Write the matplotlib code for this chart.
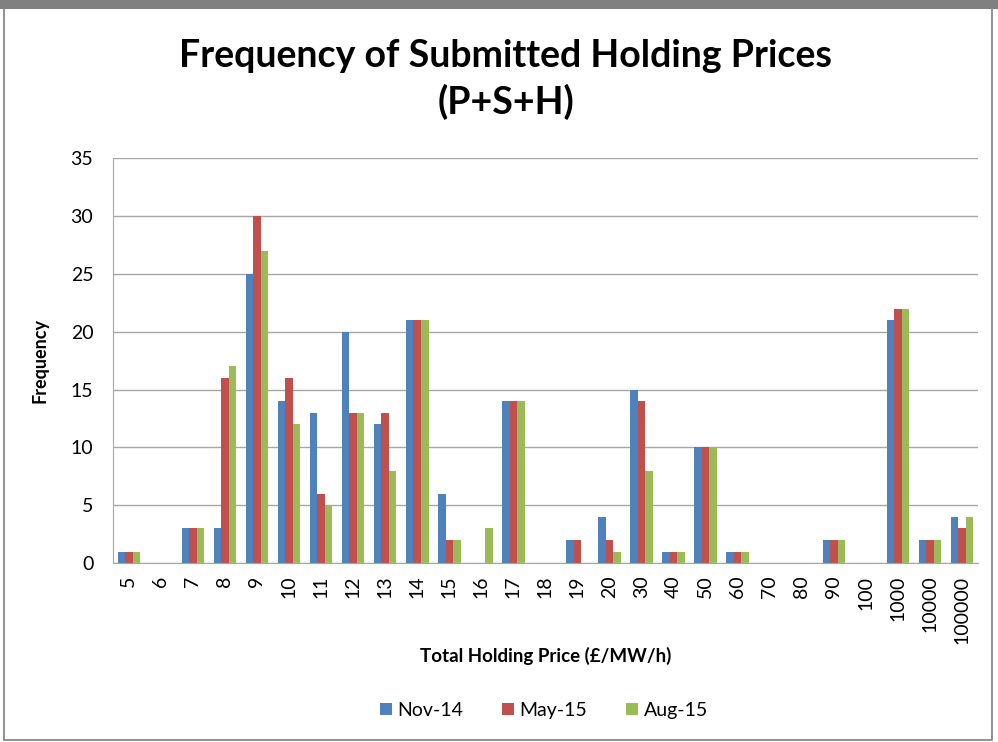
import matplotlib.pyplot as plt
import numpy as np
from matplotlib.patches import Rectangle

# data
prices = ['5', '6', '7', '8', '9', '10', '11', '12', '13', '14', '15', '16', '17', '18',
          '19', '20', '30', '40', '50', '60', '70', '80', '90', '100', '1000', '10000', '100000']
nov14 = [1, 0, 3, 3, 25, 14, 13, 20, 12, 21, 6, 0, 14, 0, 2, 4, 15, 1, 10, 1, 0, 0, 2, 0, 21, 2, 4]
may15 = [1, 0, 3, 16, 30, 16, 6, 13, 13, 21, 2, 0, 14, 0, 2, 2, 14, 1, 10, 1, 0, 0, 2, 0, 22, 2, 3]
aug15 = [1, 0, 3, 17, 27, 12, 5, 13, 8, 21, 2, 3, 14, 0, 0, 1, 8, 1, 10, 1, 0, 0, 2, 0, 22, 2, 4]

plt.rcParams['font.family'] = ['Lato', 'DejaVu Sans']

fig = plt.figure(figsize=(9.98, 7.42), dpi=100)
ax = fig.add_axes([0.113, 0.241, 0.867, 0.546])

# outer frame of the chart
fig.patches.append(Rectangle((0.004, 0.003), 0.99, 0.99, transform=fig.transFigure,
                             fill=False, edgecolor='#7f7f7f', linewidth=1.2))
fig.patches.append(Rectangle((0.0, 0.988), 1.0, 0.012, transform=fig.transFigure,
                             facecolor='#808080', edgecolor='none'))

x = np.arange(len(prices))
w = 0.235
ax.bar(x - w, nov14, w, color='#4F81BD', label='Nov-14')
ax.bar(x, may15, w, color='#C0504D', label='May-15')
ax.bar(x + w, aug15, w, color='#9BBB59', label='Aug-15')

ax.set_xlim(-0.5, len(prices) - 0.5)
ax.set_ylim(0, 35)
ax.set_yticks(range(0, 36, 5))
ax.set_xticks(x)
ax.set_xticklabels(prices, rotation=90, fontsize=14)
ax.tick_params(axis='y', labelsize=14, length=0, pad=14)
ax.tick_params(axis='x', length=0, pad=9)

ax.yaxis.grid(True, color='#a6a6a6', linewidth=1)
ax.set_axisbelow(True)
for s in ['top', 'right']:
    ax.spines[s].set_visible(False)
ax.spines['left'].set_color('#a6a6a6')
ax.spines['bottom'].set_color('#a6a6a6')

ax.set_ylabel('Frequency', fontsize=13, fontweight='bold', labelpad=16)
ax.set_xlabel('Total Holding Price (£/MW/h)', fontsize=13.5, fontweight='bold', labelpad=2)

fig.text(0.507, 0.925, 'Frequency of Submitted Holding Prices', ha='center', va='center',
         fontsize=27, fontweight='bold')
fig.text(0.507, 0.862, '(P+S+H)', ha='center', va='center', fontsize=27, fontweight='bold')

fig.legend(loc='center', bbox_to_anchor=(0.545, 0.043), ncol=3, frameon=False,
           fontsize=14, handlelength=0.6, handleheight=0.6, handletextpad=0.3, columnspacing=2.0)

fig.savefig('out.png', dpi=100)
